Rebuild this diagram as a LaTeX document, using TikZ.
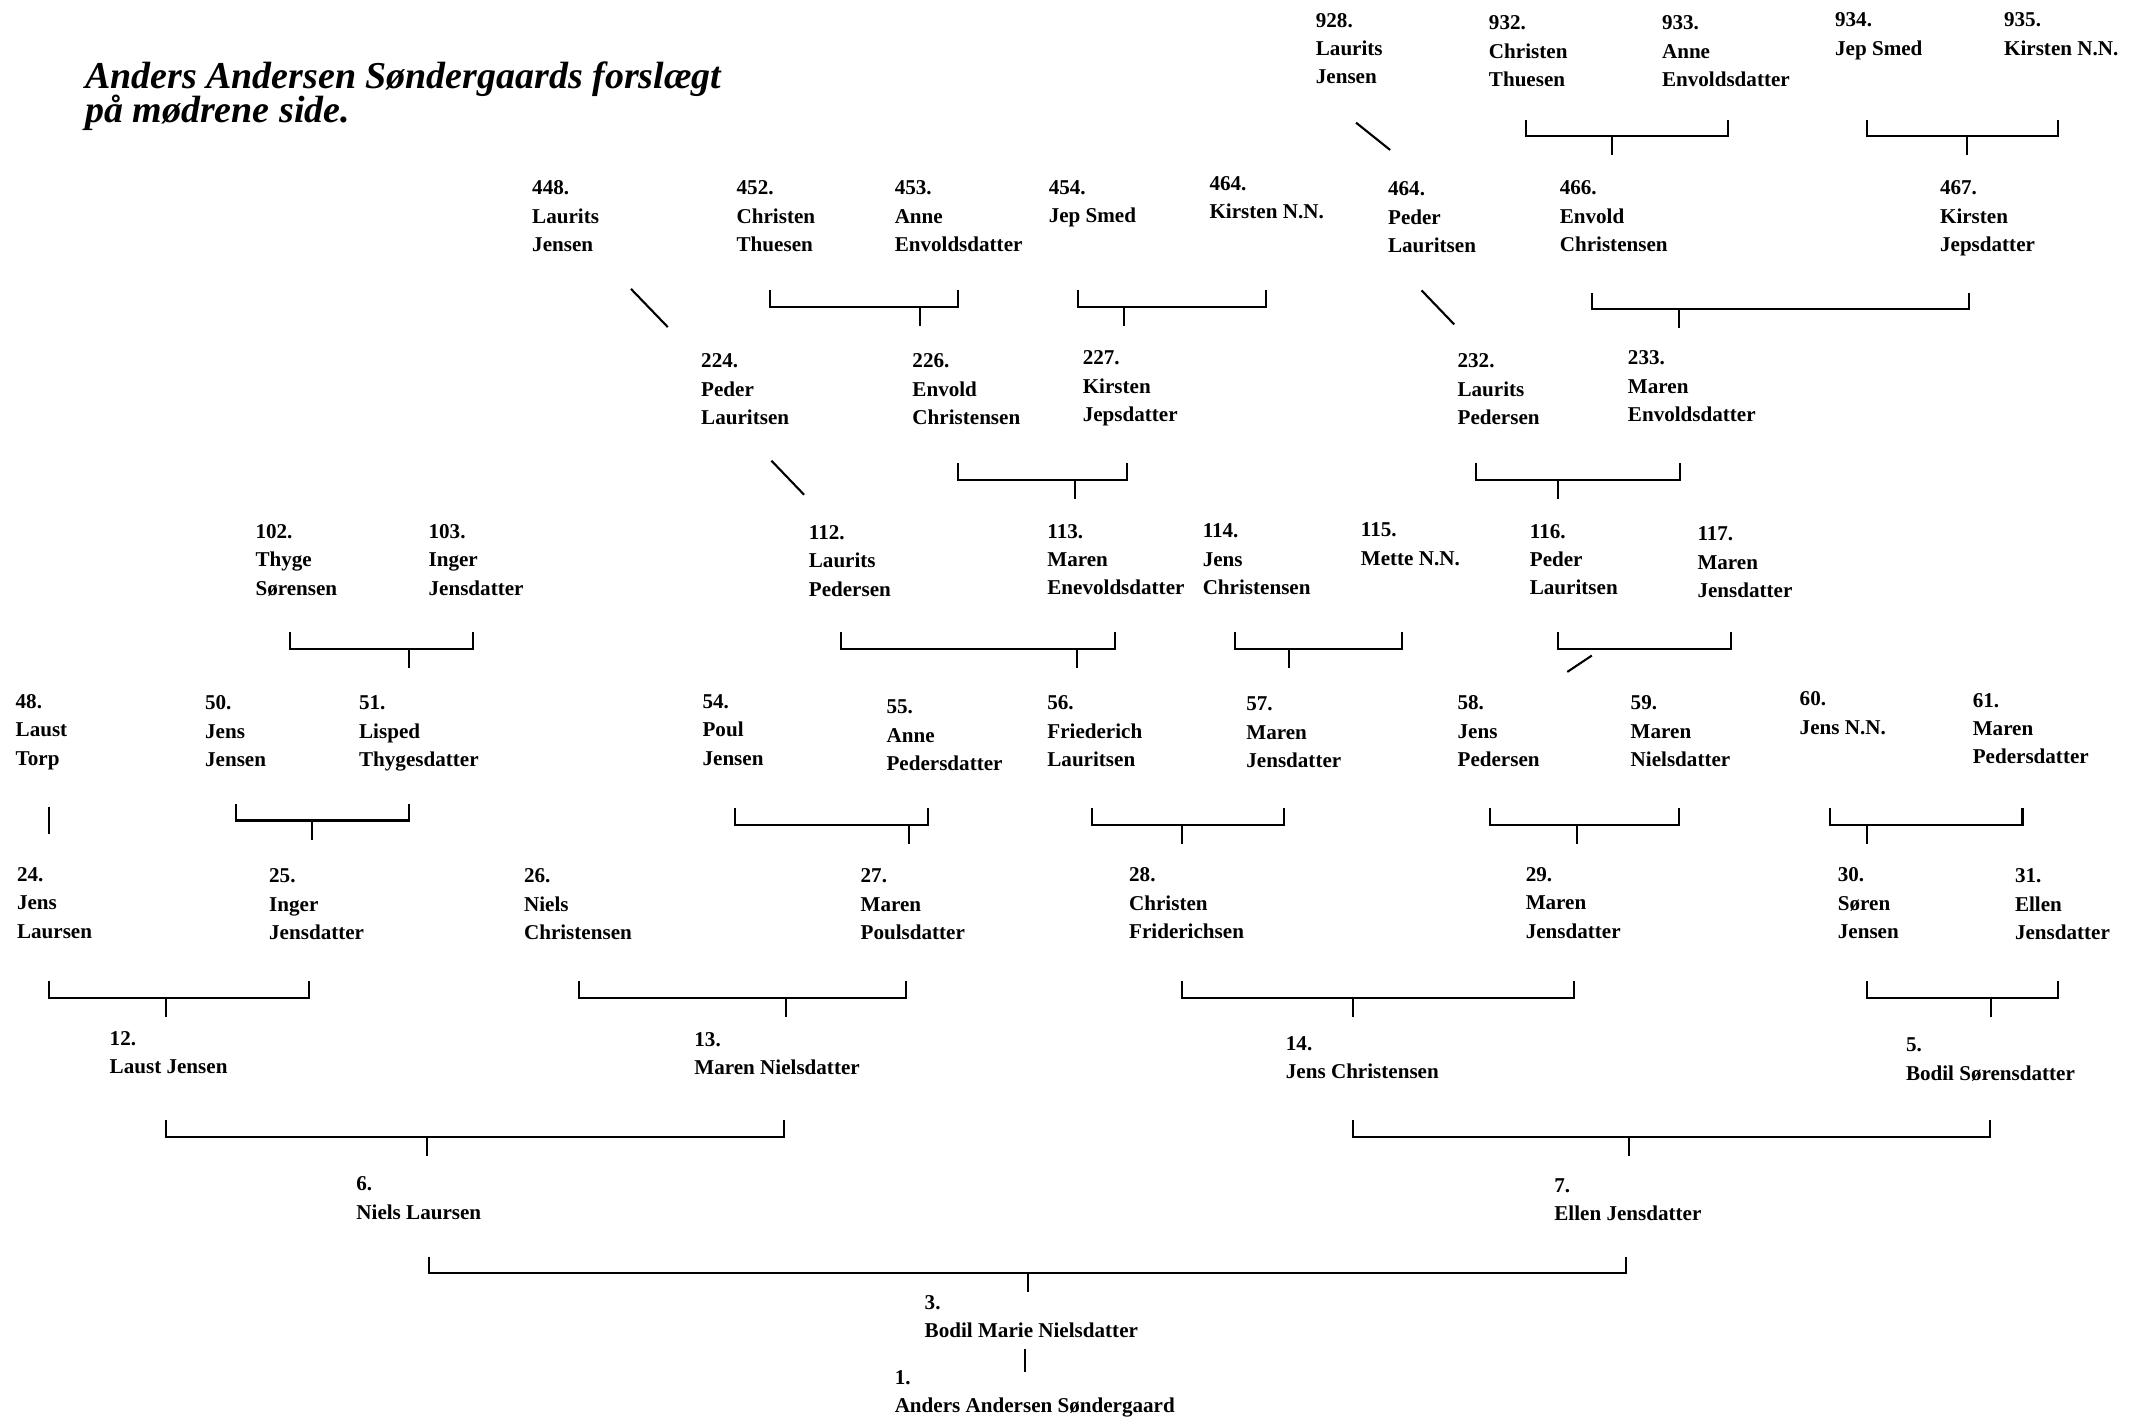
\documentclass[tikz,border=0pt]{standalone}
\usepackage{fontspec}
\setmainfont{Liberation Serif}
\usetikzlibrary{positioning}

\newcommand{\headingfont}{\fontsize{10.8}{9.7}\selectfont\setlength{\lineskiplimit}{-20pt}\bfseries\itshape}
\tikzset{
	person/.style={anchor=north west, align=left, inner sep=0pt, font=\fontsize{6}{8.1}\selectfont\bfseries},
	heading/.style={anchor=north west, align=left, inner sep=0pt, font=\headingfont},
	link/.style={line width=0.6pt},
}
% left end, right end, middle, height of the bar
\newcommand{\parents}[4]{%
	\draw[link] (#1,#4-12) -- (#1,#4) -- (#2,#4) -- (#2,#4-12);
	\draw[link] (#3,#4) -- (#3,#4+14);}

\begin{document}
\begin{tikzpicture}[x=0.013629cm, y=-0.013629cm]
				\useasboundingbox (0,0) rectangle (1568,1040);
				\node[heading] (title) at (62,45) {Anders Andersen Søndergaards forslægt\\på mødrene side.};
				% 10th generation
				\node[person] (n928) at (965,9) {928.\\Laurits\\Jensen};
				\node[person] (n932) at (1092,11) {932.\\Christen\\Thuesen};
				\node[person] (n933) at (1219,11) {933.\\Anne\\Envoldsdatter};
				\node[person] (n934) at (1346,9) {934.\\Jep Smed};
				\node[person] (n935) at (1470,9) {935.\\Kirsten N.N.};
				\draw[link] (995,90) -- (1020,110);
				\parents{1120}{1268}{1183}{100}
				\parents{1370}{1510}{1443}{100}
				% 9th generation
				\node[person] (n448) at (390,132) {448.\\Laurits\\Jensen};
				\node[person] (n452) at (540,132) {452.\\Christen\\Thuesen};
				\node[person] (n453) at (656,132) {453.\\Anne\\Envoldsdatter};
				\node[person] (n454) at (769,132) {454.\\Jep Smed};
				\node[person] (n455) at (887,129) {464.\\Kirsten N.N.};
				\node[person] (n464) at (1018,133) {464.\\Peder\\Lauritsen};
				\node[person] (n466) at (1144,132) {466.\\Envold\\Christensen};
				\node[person] (n467) at (1423,132) {467.\\Kirsten\\Jepsdatter};
				\draw[link] (463,212) -- (490,240);
				\parents{565}{703}{675}{225}
				\parents{791}{929}{825}{225}
				\draw[link] (1043,213) -- (1067,238);
				\parents{1168}{1445}{1232}{227}
				% 8th generation
				\node[person] (n224) at (514,259) {224.\\Peder\\Lauritsen};
				\node[person] (n226) at (669,259) {226.\\Envold\\Christensen};
				\node[person] (n227) at (794,257) {227.\\Kirsten\\Jepsdatter};
				\node[person] (n232) at (1069,259) {232.\\Laurits\\Pedersen};
				\node[person] (n233) at (1194,257) {233.\\Maren\\Envoldsdatter};
				\draw[link] (566,338) -- (590,363);
				\parents{703}{827}{789}{352}
				\parents{1083}{1233}{1143}{352}
				% 7th generation
				\node[person] (n102) at (187,384) {102.\\Thyge\\Sørensen};
				\node[person] (n103) at (314,384) {103.\\Inger\\Jensdatter};
				\node[person] (n112) at (593,385) {112.\\Laurits\\Pedersen};
				\node[person] (n113) at (768,384) {113.\\Maren\\Enevoldsdatter};
				\node[person] (n114) at (882,384) {114.\\Jens\\Christensen};
				\node[person] (n115) at (998,383) {115.\\Mette N.N.};
				\node[person] (n116) at (1122,384) {116.\\Peder\\Lauritsen};
				\node[person] (n117) at (1245,386) {117.\\Maren\\Jensdatter};
				\parents{213}{347}{300}{476}
				\parents{617}{818}{790}{476}
				\parents{906}{1029}{946}{476}
				\draw[link] (1143,464) -- (1143,476) -- (1270,476) -- (1270,464);
				\draw[link] (1168,481) -- (1150,493);
				% 6th generation
				\node[person] (n48) at (11,509) {48.\\Laust\\Torp};
				\node[person] (n50) at (150,510) {50.\\Jens\\Jensen};
				\node[person] (n51) at (263,510) {51.\\Lisped\\Thygesdatter};
				\node[person] (n54) at (515,509) {54.\\Poul\\Jensen};
				\node[person] (n55) at (650,513) {55.\\Anne\\Pedersdatter};
				\node[person] (n56) at (768,510) {56.\\Friederich\\Lauritsen};
				\node[person] (n57) at (914,511) {57.\\Maren\\Jensdatter};
				\node[person] (n58) at (1069,510) {58.\\Jens\\Pedersen};
				\node[person] (n59) at (1196,510) {59.\\Maren\\Nielsdatter};
				\node[person] (n60) at (1320,507) {60.\\Jens N.N.};
				\node[person] (n61) at (1447,508) {61.\\Maren\\Pedersdatter};
				\draw[link] (36,592) -- (36,612);
				\parents{173}{300}{229}{602}
				\parents{539}{681}{667}{605}
				\parents{801}{942}{867}{605}
				\parents{1093}{1232}{1157}{605}
				\parents{1343}{1484}{1370}{605}
				% 5th generation
				\node[person] (n24) at (12,636) {24.\\Jens\\Laursen};
				\node[person] (n25) at (197,637) {25.\\Inger\\Jensdatter};
				\node[person] (n26) at (384,637) {26.\\Niels\\Christensen};
				\node[person] (n27) at (631,637) {27.\\Maren\\Poulsdatter};
				\node[person] (n28) at (828,636) {28.\\Christen\\Friderichsen};
				\node[person] (n29) at (1119,636) {29.\\Maren\\Jensdatter};
				\node[person] (n30) at (1348,636) {30.\\Søren\\Jensen};
				\node[person] (n31) at (1478,637) {31.\\Ellen\\Jensdatter};
				\parents{36}{227}{122}{732}
				\parents{425}{665}{577}{732}
				\parents{867}{1155}{993}{732}
				\parents{1370}{1510}{1461}{732}
				% 4th generation
				\node[person] (n12) at (80,756) {12.\\Laust Jensen};
				\node[person] (n13) at (509,757) {13.\\Maren Nielsdatter};
				\node[person] (n14) at (943,760) {14.\\Jens Christensen};
				\node[person] (n5) at (1398,761) {5.\\Bodil Sørensdatter};
				\parents{122}{575}{313}{834}
				\parents{993}{1460}{1195}{834}
				% parents and child
				\node[person] (n6) at (261,863) {6.\\Niels Laursen};
				\node[person] (n7) at (1140,864) {7.\\Ellen Jensdatter};
				\parents{315}{1193}{754}{934}
				\node[person] (n3) at (678,950) {3.\\Bodil Marie Nielsdatter};
				\node[person] (n1) at (656,1005) {1.\\Anders Andersen Søndergaard};
				\draw[link] (752,990) -- (752,1007);
			\end{tikzpicture}
\end{document}
